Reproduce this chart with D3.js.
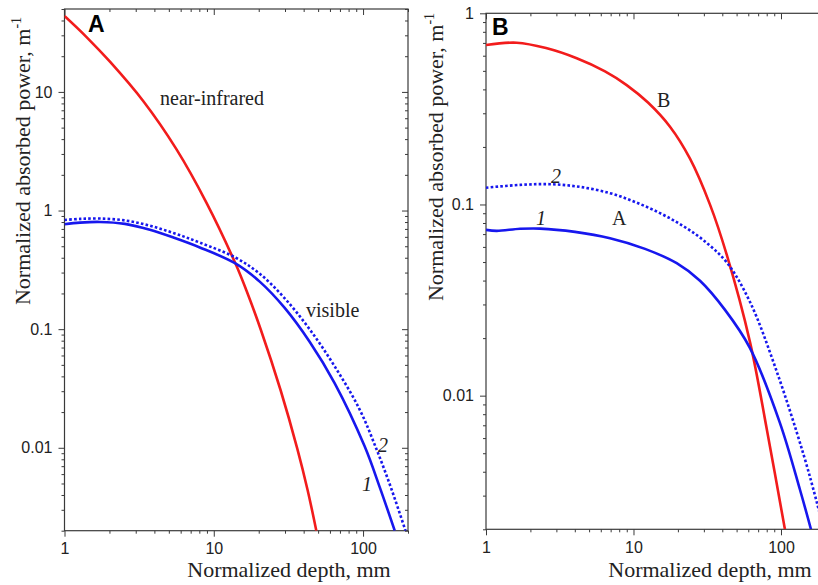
<!DOCTYPE html>
<html>
<head>
<meta charset="utf-8">
<script src="https://cdn.jsdelivr.net/npm/d3@7"></script>
<style>
  html, body { margin: 0; padding: 0; background: #fff; overflow: hidden; }
  svg { display: block; }
</style>
</head>
<body>
<svg id="chart" width="818" height="585"></svg>
<script>
// ---------------- DATA ----------------
// Panel A (left)
const aNirX = [1, 1.4, 2.016, 3.366, 5.63, 8.94, 14.04, 16.55, 20.63, 28.07, 36.25, 42.54, 48.64];
const aNirY = [43.7, 29.15, 17.97, 8.38, 3.275, 1.161, 0.352, 0.2116, 0.0994, 0.0304, 0.00985, 0.00439, 0.002];
const aVis1X = [1, 1.27, 1.728, 2.54, 3.732, 5.484, 8.06, 14.04, 20.31, 29.85, 43.86, 64.47, 102.3, 128.9, 163];
const aVis1Y = [0.766, 0.7907, 0.8014, 0.7723, 0.6888, 0.5862, 0.4886, 0.3566, 0.2515, 0.151, 0.0783, 0.0351, 0.01033, 0.00471, 0.002];
const aVis2X = [1, 1.27, 1.728, 2.54, 3.732, 5.484, 8.06, 14.04, 20.31, 29.85, 43.86, 64.47, 94.75, 123.1, 155.1, 192.4];
const aVis2Y = [0.833, 0.85, 0.856, 0.8252, 0.7445, 0.641, 0.537, 0.40, 0.2932, 0.1822, 0.0998, 0.0487, 0.0211, 0.00971, 0.00447, 0.002];

// Panel B (right)
const bRedX = [1, 1.615, 2.552, 4.121, 6.41, 8.99, 12.54, 17.68, 24.16, 33.01, 42.85, 61.64, 80.4, 106.3];
const bRedY = [0.683, 0.702, 0.658, 0.582, 0.497, 0.4213, 0.3413, 0.2551, 0.1736, 0.0998, 0.0546, 0.01906, 0.00658, 0.002];
const bBlue1X = [1, 1.182, 1.70, 2.323, 4.012, 6.93, 11.97, 19.63, 28.24, 41.72, 61.64, 98.44, 134.5, 159.7];
const bBlue1Y = [0.0737, 0.0728, 0.0746, 0.0748, 0.0719, 0.0666, 0.0586, 0.0493, 0.0399, 0.0281, 0.01774, 0.00719, 0.00322, 0.002];
const bBlue2X = [1, 1.70, 2.716, 4.339, 6.93, 10.24, 15.13, 21.32, 29.74, 42.85, 61.64, 93.5, 141.6, 176.2, 194.4];
const bBlue2Y = [0.1224, 0.1266, 0.1277, 0.1236, 0.1146, 0.1031, 0.0901, 0.0778, 0.0651, 0.0498, 0.0309, 0.0134, 0.00497, 0.00271, 0.002];

// Axes
const xDomain = [1, 200];
const xMajor = [1, 10, 100];
const xMinor = [2, 3, 4, 5, 6, 7, 8, 9, 20, 30, 40, 50, 60, 70, 80, 90, 200];
const aYDomain = [0.002, 50];
const aYMajor = [0.01, 0.1, 1, 10];
const aYMinor = [0.002, 0.003, 0.004, 0.005, 0.006, 0.007, 0.008, 0.009,
                 0.02, 0.03, 0.04, 0.05, 0.06, 0.07, 0.08, 0.09,
                 0.2, 0.3, 0.4, 0.5, 0.6, 0.7, 0.8, 0.9,
                 2, 3, 4, 5, 6, 7, 8, 9, 20, 30, 40, 50];
const bYDomain = [0.002, 1];
const bYMajor = [0.01, 0.1, 1];
const bYMinor = [0.002, 0.003, 0.004, 0.005, 0.006, 0.007, 0.008, 0.009,
                 0.02, 0.03, 0.04, 0.05, 0.06, 0.07, 0.08, 0.09,
                 0.2, 0.3, 0.4, 0.5, 0.6, 0.7, 0.8, 0.9];

const xTitle = "Normalized depth, mm";
const yTitle = "Normalized absorbed power, m";
const yTitleSup = "-1";

// ---------------- DRAW ----------------
const svg = d3.select("#chart");
const RED = "#f21c1c", BLUE = "#1717ee", AXIS = "#3a3a3a";
const SANS = "'Liberation Sans', Arial, sans-serif";
const SERIF = "'Liberation Serif', 'Times New Roman', serif";

function zip(xs, ys) { return xs.map((v, i) => [v, ys[i]]); }

function panel(cfg) {
  const g = svg.append("g");
  const x = d3.scaleLog().domain(xDomain).range([cfg.left, cfg.right]);
  const y = d3.scaleLog().domain(cfg.yDomain).range([cfg.bottom, cfg.top]);

  const clipId = "clip" + cfg.id;
  svg.append("clipPath").attr("id", clipId).append("rect")
    .attr("x", cfg.left).attr("y", cfg.top)
    .attr("width", cfg.right - cfg.left).attr("height", cfg.bottom - cfg.top);

  function style(sel) {
    sel.select(".domain").remove();
    sel.selectAll("line").attr("stroke", AXIS).attr("stroke-width", 1);
    sel.selectAll("text").attr("font-family", SANS).attr("font-size", 16).attr("fill", "#222");
  }

  // bottom axis
  g.append("g").attr("transform", `translate(0,${cfg.bottom})`)
    .call(d3.axisBottom(x).tickValues(xMajor).tickSize(6).tickPadding(6).tickFormat(d => String(d))).call(style);
  g.append("g").attr("transform", `translate(0,${cfg.bottom})`)
    .call(d3.axisBottom(x).tickValues(xMinor).tickSize(3).tickFormat("")).call(style);
  // top mirror (ticks pointing down, inside)
  g.append("g").attr("transform", `translate(0,${cfg.top})`)
    .call(d3.axisBottom(x).tickValues(xMajor).tickSize(6).tickFormat("")).call(style);
  g.append("g").attr("transform", `translate(0,${cfg.top})`)
    .call(d3.axisBottom(x).tickValues(xMinor).tickSize(3).tickFormat("")).call(style);
  // left axis
  g.append("g").attr("transform", `translate(${cfg.left},0)`)
    .call(d3.axisLeft(y).tickValues(cfg.yMajor).tickSize(6).tickPadding(6).tickFormat(d => String(d))).call(style);
  g.append("g").attr("transform", `translate(${cfg.left},0)`)
    .call(d3.axisLeft(y).tickValues(cfg.yMinor).tickSize(3).tickFormat("")).call(style);
  // right mirror (ticks pointing left, inside)
  g.append("g").attr("transform", `translate(${cfg.right},0)`)
    .call(d3.axisLeft(y).tickValues(cfg.yMajor).tickSize(6).tickFormat("")).call(style);
  g.append("g").attr("transform", `translate(${cfg.right},0)`)
    .call(d3.axisLeft(y).tickValues(cfg.yMinor).tickSize(3).tickFormat("")).call(style);

  // frame
  g.append("rect").attr("x", cfg.left).attr("y", cfg.top)
    .attr("width", cfg.right - cfg.left).attr("height", cfg.bottom - cfg.top)
    .attr("fill", "none").attr("stroke", AXIS).attr("stroke-width", 1.2);

  const line = d3.line().x(d => x(d[0])).y(d => y(d[1])).curve(d3.curveCatmullRom.alpha(0.5));
  const curves = g.append("g").attr("clip-path", `url(#${clipId})`);
  cfg.series.forEach(s => {
    curves.append("path").attr("d", line(zip(s.x, s.y)))
      .attr("fill", "none").attr("stroke", s.color).attr("stroke-width", 2.6)
      .attr("stroke-dasharray", s.dotted ? "2.6 2.2" : null);
  });

  // axis titles
  g.append("text").attr("x", cfg.xTitleX).attr("y", 577).attr("text-anchor", "middle")
    .attr("font-family", SERIF).attr("font-size", 22).attr("fill", "#222").text(xTitle);
  const yt = g.append("text")
    .attr("transform", `translate(${cfg.yTitleX},${cfg.yTitleY}) rotate(-90)`)
    .attr("text-anchor", "middle").attr("font-family", SERIF).attr("font-size", 22).attr("fill", "#222");
  yt.append("tspan").text(yTitle);
  yt.append("tspan").attr("dy", -9).attr("font-size", 14).text(yTitleSup);

  // panel letter
  g.append("text").attr("x", cfg.letterX).attr("y", cfg.letterY)
    .attr("font-family", SANS).attr("font-weight", "bold").attr("font-size", 23).attr("fill", "#000").text(cfg.letter);

  // annotations
  cfg.labels.forEach(l => {
    g.append("text").attr("x", l.x).attr("y", l.y)
      .attr("font-family", SERIF).attr("font-size", 20).attr("fill", "#222")
      .attr("font-style", l.italic ? "italic" : null).text(l.t);
  });
}

panel({
  id: "A", left: 64.5, right: 408, top: 9, bottom: 530.7,
  yDomain: aYDomain, yMajor: aYMajor, yMinor: aYMinor,
  xTitleX: 289, yTitleX: 30, yTitleY: 161,
  letter: "A", letterX: 88, letterY: 32,
  series: [
    { x: aNirX, y: aNirY, color: RED },
    { x: aVis1X, y: aVis1Y, color: BLUE },
    { x: aVis2X, y: aVis2Y, color: BLUE, dotted: true }
  ],
  labels: [
    { t: "near-infrared", x: 160, y: 105 },
    { t: "visible", x: 306, y: 317 },
    { t: "2", x: 378, y: 452, italic: true },
    { t: "1", x: 362, y: 491, italic: true }
  ]
});

panel({
  id: "B", left: 486, right: 825.4, top: 13.3, bottom: 529.3,
  yDomain: bYDomain, yMajor: bYMajor, yMinor: bYMinor,
  xTitleX: 710, yTitleX: 443, yTitleY: 157,
  letter: "B", letterX: 492, letterY: 35,
  series: [
    { x: bRedX, y: bRedY, color: RED },
    { x: bBlue1X, y: bBlue1Y, color: BLUE },
    { x: bBlue2X, y: bBlue2Y, color: BLUE, dotted: true }
  ],
  labels: [
    { t: "B", x: 657, y: 107 },
    { t: "2", x: 551, y: 183, italic: true },
    { t: "1", x: 536, y: 225, italic: true },
    { t: "A", x: 612, y: 225 }
  ]
});
</script>
</body>
</html>
